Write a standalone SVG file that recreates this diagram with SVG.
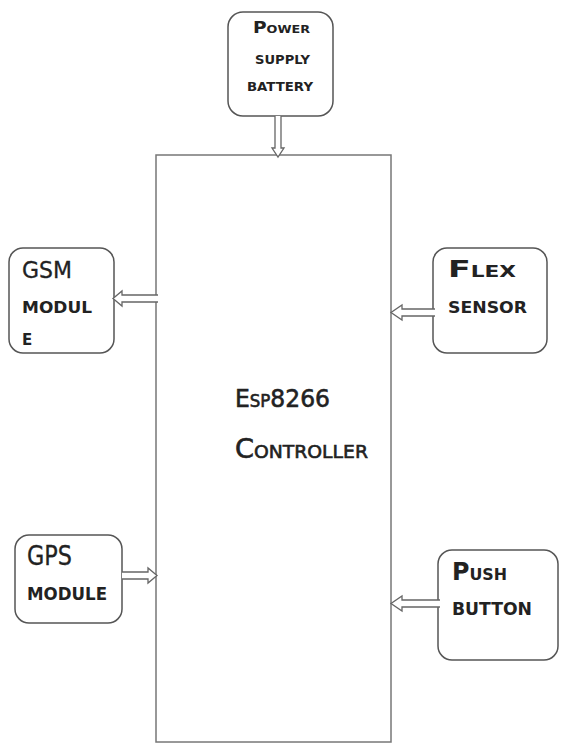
<svg xmlns="http://www.w3.org/2000/svg" width="561" height="746" viewBox="0 0 561 746">
<style>
.box{fill:#fff;stroke:#555;stroke-width:1.5}
.main{fill:#fff;stroke:#777;stroke-width:1.5}
.arr{fill:#fff;stroke:#666;stroke-width:1.3;stroke-linejoin:miter}
text{font-family:"DejaVu Sans","Liberation Sans",sans-serif;fill:#222}
.b{font-weight:bold}
.m{stroke:#222;stroke-width:0.6}
</style>
<rect width="561" height="746" fill="#fff"/>
<g id="controller">
<rect class="main" x="156" y="155" width="235" height="587"/>
<text class="m" x="235" y="407" font-size="24" textLength="95" lengthAdjust="spacingAndGlyphs">E<tspan font-size="17">SP</tspan>8266</text>
<text class="m" x="235" y="458" font-size="26" textLength="133" lengthAdjust="spacingAndGlyphs">C<tspan font-size="18">ONTROLLER</tspan></text>
</g>
<g id="power">
<rect class="box" x="228" y="12" width="105" height="104" rx="15"/>
<text class="b" x="253" y="33" font-size="16" textLength="57" lengthAdjust="spacingAndGlyphs">P<tspan font-size="11">OWER</tspan></text>
<text class="b" x="255" y="64" font-size="12" textLength="55" lengthAdjust="spacingAndGlyphs">SUPPLY</text>
<text class="b" x="247" y="91" font-size="12" textLength="66" lengthAdjust="spacingAndGlyphs">BATTERY</text>
</g>
<g id="gsm">
<rect class="box" x="9" y="248" width="105" height="105" rx="14"/>
<text class="m" x="22" y="278" font-size="23" textLength="50" lengthAdjust="spacingAndGlyphs" style="stroke-width:0.3">GSM</text>
<text class="b" x="22" y="313" font-size="15" textLength="70" lengthAdjust="spacingAndGlyphs">MODUL</text>
<text class="b" x="22" y="345" font-size="15">E</text>
</g>
<g id="flex">
<rect class="box" x="433" y="248" width="114" height="105" rx="14"/>
<text class="b" x="448" y="277" font-size="23" textLength="68" lengthAdjust="spacingAndGlyphs">F<tspan font-size="15">LEX</tspan></text>
<text class="b" x="448" y="313" font-size="16" textLength="79" lengthAdjust="spacingAndGlyphs">SENSOR</text>
</g>
<g id="gps">
<rect class="box" x="15" y="535" width="107" height="88" rx="14"/>
<text class="m" x="27" y="565" font-size="26" textLength="45" lengthAdjust="spacingAndGlyphs" style="stroke-width:0.3">GPS</text>
<text class="b" x="27" y="600" font-size="17" textLength="80" lengthAdjust="spacingAndGlyphs">MODULE</text>
</g>
<g id="push">
<rect class="box" x="438" y="550" width="120" height="110" rx="14"/>
<text class="b" x="452" y="580" font-size="24" textLength="55" lengthAdjust="spacingAndGlyphs">P<tspan font-size="16">USH</tspan></text>
<text class="b" x="452" y="615" font-size="17" textLength="80" lengthAdjust="spacingAndGlyphs">BUTTON</text>
</g>
<g id="connectors">
<path class="arr" d="M275,116 L275,148 L272,148 L278,157 L284,148 L281,148 L281,116"/>
<path class="arr" d="M158,295 L122,295 L122,291 L113,298.5 L122,306 L122,302 L158,302"/>
<path class="arr" d="M435,309 L402,309 L402,305 L391,312.5 L402,320 L402,316 L435,316"/>
<path class="arr" d="M122,572 L148,572 L148,568 L157,575.5 L148,583 L148,579 L122,579"/>
<path class="arr" d="M440,600 L402,600 L402,596 L391,603.5 L402,611 L402,607 L440,607"/>
</g>
</svg>
